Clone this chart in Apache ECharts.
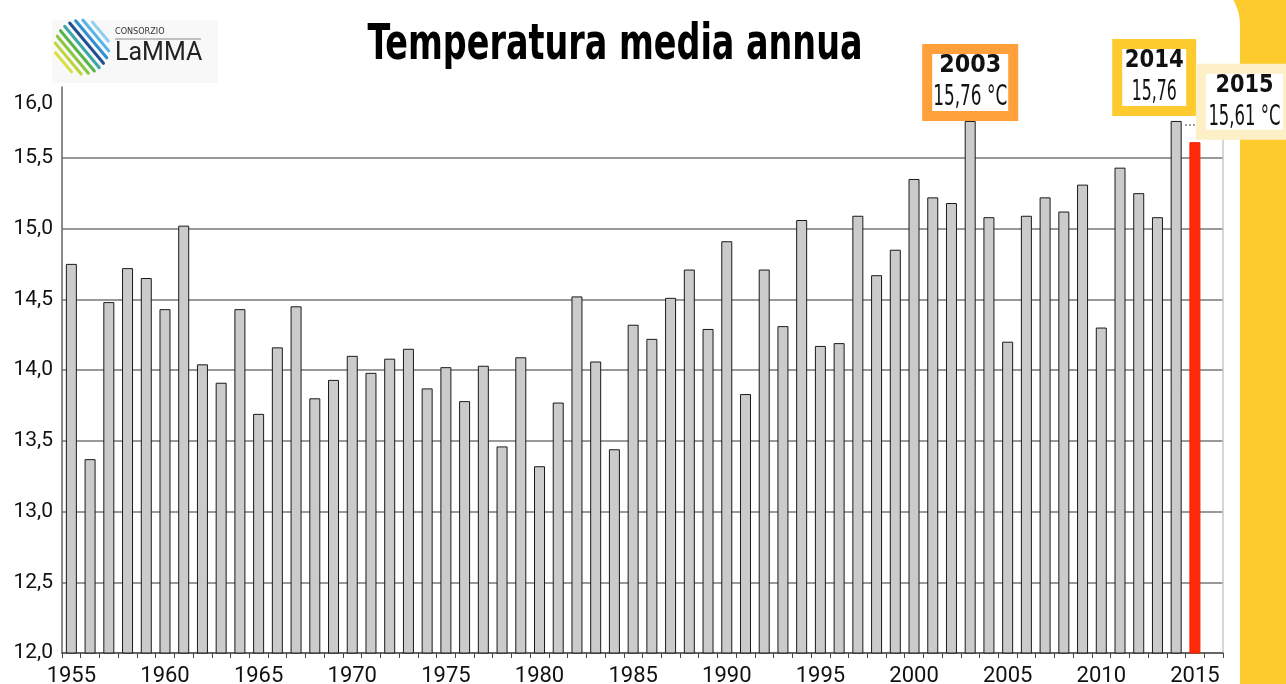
<!DOCTYPE html>
<html>
<head>
<meta charset="utf-8">
<title>Temperatura media annua</title>
<script src="https://cdn.jsdelivr.net/npm/echarts@6/dist/echarts.min.js"></script>
<style>
html, body { margin: 0; padding: 0; background: #fdcb2e; }
#chart { width: 1286px; height: 684px; }
</style>
</head>
<body>
<div id="chart"></div>
<script>
// anni (l'ultima categoria resta vuota, come nel grafico originale)
const years = [];
for (let y = 1955; y <= 2016; y++) years.push(String(y));

// temperatura media annua (°C), 1955 - 2015
const temps = [
    14.75, 13.37, 14.48, 14.72, 14.65, 14.43, 15.02, 14.04, 13.91, 14.43,
    13.69, 14.16, 14.45, 13.80, 13.93, 14.10, 13.98, 14.08, 14.15, 13.87,
    14.02, 13.78, 14.03, 13.46, 14.09, 13.32, 13.77, 14.52, 14.06, 13.44,
    14.32, 14.22, 14.51, 14.71, 14.29, 14.91, 13.83, 14.71, 14.31, 15.06,
    14.17, 14.19, 15.09, 14.67, 14.85, 15.35, 15.22, 15.18, 15.76, 15.08,
    14.20, 15.09, 15.22, 15.12, 15.31, 14.30, 15.43, 15.25, 15.08, 15.76,
    15.61
];

// anni evidenziati con il riquadro
const highlightYears = ["2003", "2014", "2015"];
const highlightUnits = [" °C", "", " °C"];

// riquadri: colore bordo, posizione rispetto alla cima della barra, larghezze dei testi
const boxes = {
    "2003": { border: "#ffa03a", dx: -48, dy: 0, w: 96, h: 77, yearW: 62, valW: 74 },
    "2014": { border: "#fdcb2e", dx: -64, dy: -5, w: 84, h: 77, yearW: 59, valW: 45 },
    "2015": { border: "#fdefc6", dx: 1, dy: -2.5, w: 97, h: 76, yearW: 58, valW: 72 },
};

const fmt = (v, d) => v.toFixed(d).replace(".", ",");

const barData = temps.map((v, i) => {
    if (years[i] === "2015") {
        return { value: v, itemStyle: { color: "#ff2a0a", borderColor: "#f02000" } };
    }
    return v;
});

// misura del testo per comprimerlo in orizzontale (font condensati non disponibili)
const ctx = document.createElement("canvas").getContext("2d");
function fitScale(text, font, target) {
    ctx.font = font;
    return target / ctx.measureText(text).width;
}

// logo: strisce diagonali dentro un cerchio
const stripeColors = ["#d9df3c", "#bcd63a", "#8cc63f", "#55b548", "#3aa6a8", "#1f4f8f", "#2f8fd0", "#56b4e6", "#8dd0ef"];
const logoCx = 82, logoCy = 47, logoR = 27;
const stripes = stripeColors.map((c, k) => {
    const d = (k - (stripeColors.length - 1) / 2) * 6;
    const a = 50 * Math.PI / 180;
    const ux = Math.cos(a), uy = Math.sin(a);
    const nx = uy, ny = -ux;
    const half = Math.sqrt(Math.max(logoR * logoR - d * d, 0));
    const mx = logoCx + nx * d, my = logoCy + ny * d;
    return {
        type: "line",
        shape: { x1: mx - ux * half, y1: my - uy * half, x2: mx + ux * half, y2: my + uy * half },
        style: { stroke: c, lineWidth: 3, lineCap: "round" },
        z: 1,
    };
});

const titleText = "Temperatura media annua";
const titleFont = "bold 50px 'DejaVu Sans Condensed', sans-serif";

const baseGraphics = [
    {
        type: "rect",
        shape: { x: 0, y: -25, width: 1240, height: 740, r: [0, 50, 0, 0] },
        style: { fill: "#fff" },
        z: -10,
    },
    {
        type: "rect",
        shape: { x: 52, y: 20, width: 166, height: 63 },
        style: { fill: "#f8f8f8" },
        z: 0,
    },
    ...stripes,
    {
        type: "text",
        x: 115, y: 27,
        style: { text: "CONSORZIO", font: "9px 'DejaVu Sans Condensed', sans-serif", fill: "#333" },
        z: 1,
    },
    {
        type: "line",
        shape: { x1: 115, y1: 39, x2: 201, y2: 39 },
        style: { stroke: "#888", lineWidth: 1 },
        z: 1,
    },
    {
        type: "text",
        x: 115, y: 41,
        style: { text: "LaMMA", font: "25px Roboto, sans-serif", fill: "#222" },
        z: 1,
    },
    {
        type: "text",
        x: 615, y: 46,
        scaleX: fitScale(titleText, titleFont, 495),
        style: {
            text: titleText,
            font: titleFont,
            fill: "#000",
            align: "center",
            verticalAlign: "middle",
        },
        z: 1,
    },
];

const chart = echarts.init(document.getElementById("chart"));

const option = {
    backgroundColor: "transparent",
    animation: false,
    grid: {
        left: 62,
        right: 63,
        top: 87,
        bottom: 31,
        outerBoundsMode: "none",
    },
    xAxis: {
        type: "category",
        data: years,
        axisLine: { lineStyle: { color: "#555", width: 1.5 } },
        axisTick: { show: true, interval: 0, length: 5, lineStyle: { color: "#444" } },
        axisLabel: {
            interval: 4,
            color: "#111",
            fontFamily: "Roboto, sans-serif",
            fontSize: 22,
            margin: 12,
        },
    },
    yAxis: [
        {
            type: "value",
            min: 12,
            max: 16,
            interval: 0.5,
            axisLine: { show: true, lineStyle: { color: "#666", width: 1.5 } },
            axisTick: { show: false },
            axisLabel: {
                color: "#111",
                fontFamily: "Roboto, sans-serif",
                fontSize: 21,
                margin: 9,
                formatter: (v) => (v === 16 ? "{top|16,0}" : fmt(v, 1)),
                rich: {
                    top: { fontFamily: "Roboto, sans-serif", fontSize: 21, color: "#111", padding: [34, 0, 0, 0] },
                },
            },
            splitLine: { show: true, showMaxLine: false, lineStyle: { color: "#777", width: 1.5 } },
        },
        {
            type: "value",
            position: "right",
            min: 12,
            max: 16,
            axisLine: { show: true, lineStyle: { color: "#c8c8c8", width: 1.5 } },
            axisTick: { show: false },
            axisLabel: { show: false },
            splitLine: { show: false },
        },
    ],
    series: [
        {
            type: "bar",
            data: barData,
            barWidth: 11,
            itemStyle: {
                color: "#cbcbcb",
                borderColor: "#1a1a1a",
                borderWidth: 1,
            },
        },
    ],
};

chart.setOption(option);

// riquadri agganciati alla cima delle barre evidenziate
const yearFont = "bold 25px 'DejaVu Sans', sans-serif";
const valFont = "29px 'DejaVu Sans Condensed', sans-serif";
const annots = [];
const boxLeft = {};
highlightYears.forEach((year, h) => {
    const i = years.indexOf(year);
    const b = boxes[year];
    const [px, py] = chart.convertToPixel({ seriesIndex: 0 }, [i, temps[i]]);
    const left = px + b.dx;
    const top = py + b.dy - b.h;
    boxLeft[year] = left;
    const valText = fmt(temps[i], 2) + highlightUnits[h];
    annots.push(
        {
            type: "rect",
            shape: { x: left + 5, y: top + 5, width: b.w - 10, height: b.h - 10 },
            style: { fill: "#fff", stroke: b.border, lineWidth: 10 },
            z: 10,
        },
        {
            type: "text",
            x: left + b.w / 2, y: top + 22,
            scaleX: fitScale(year, yearFont, b.yearW),
            style: { text: year, font: yearFont, fill: "#111", align: "center", verticalAlign: "middle" },
            z: 11,
        },
        {
            type: "text",
            x: left + b.w / 2, y: top + 54,
            scaleX: fitScale(valText, valFont, b.valW),
            style: { text: valText, font: valFont, fill: "#111", align: "center", verticalAlign: "middle" },
            z: 11,
        }
    );
});

// puntini tra la barra del 2014 e il riquadro del 2015
const i14 = years.indexOf("2014");
const [p14x, p14y] = chart.convertToPixel({ seriesIndex: 0 }, [i14, temps[i14]]);
annots.push({
    type: "line",
    shape: { x1: p14x + 9, y1: p14y + 4, x2: boxLeft["2015"], y2: p14y + 4 },
    style: { stroke: "#555", lineWidth: 1.5, lineDash: [1.5, 2.5] },
    z: 9,
});

chart.setOption({ graphic: baseGraphics.concat(annots) });
</script>
</body>
</html>
